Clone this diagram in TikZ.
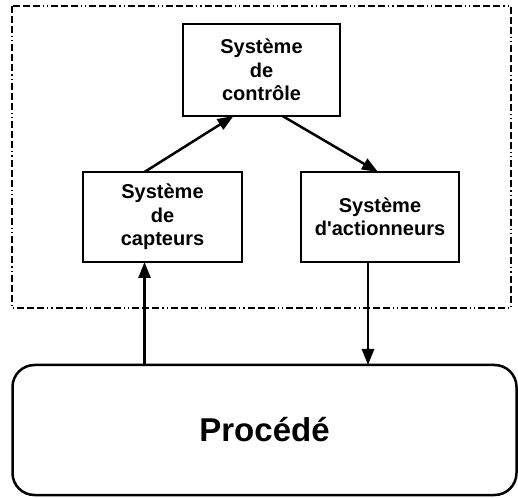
\documentclass[tikz,border=0pt]{standalone}
\usepackage{fontspec}
\setmainfont{Liberation Sans}
\usetikzlibrary{arrows.meta}
\begin{document}
\begin{tikzpicture}[x=1pt,y=1pt,
  sysbox/.style={draw,line width=2.5pt,align=center,font=\bfseries\fontsize{20}{23.5}\selectfont,inner sep=0pt,outer sep=0pt},
  arr/.style={line width=2.5pt,-{Triangle[length=16pt,width=12pt]}},
  frame/.style={line width=2.4pt,dash pattern=on 7pt off 3pt on 7pt off 3pt on 7pt off 3pt on 1.2pt off 3pt on 1.2pt off 3pt}]
\useasboundingbox (0,0) rectangle (518,497);
\draw[frame] (12,491) rectangle (511,189);
\node[sysbox,minimum width=157pt,minimum height=92pt] (ctrl) at (261.5,427) {Système\\de\\contrôle};
\node[sysbox,minimum width=159pt,minimum height=90pt] (sens) at (162.5,280) {Système\\de\\capteurs};
\node[sysbox,minimum width=158pt,minimum height=90pt] (act) at (380,280) {Système\\d\textquotesingle actionneurs};
\node[draw,line width=2.5pt,rounded corners=22pt,minimum width=504pt,minimum height=130pt,inner sep=0pt,outer sep=0pt,font=\bfseries\fontsize{33}{38}\selectfont] (proc) at (264.5,67) {Procédé};
\coordinate (sn) at ([xshift=-18pt]sens.north);
\coordinate (ss) at ([xshift=-18pt]sens.south);
\coordinate (as) at ([xshift=-12pt]act.south);
\draw[arr] (sn) -- ([xshift=-28pt]ctrl.south);
\draw[arr] ([xshift=21pt]ctrl.south) -- ([xshift=-2pt]act.north);
\draw[arr] (proc.north -| ss) -- (ss);
\draw[arr] (as) -- (proc.north -| as);
\end{tikzpicture}
\end{document}
